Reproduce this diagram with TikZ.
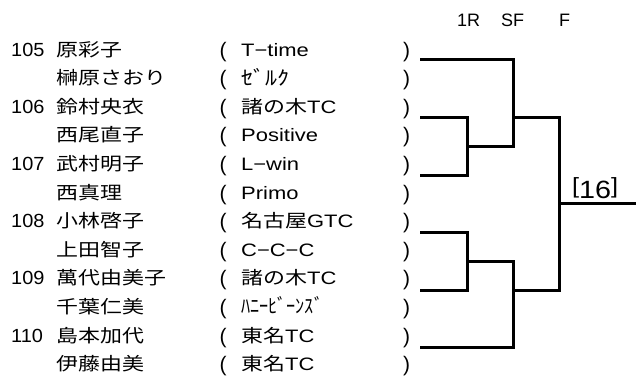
\documentclass[tikz,border=0pt]{standalone}
\usepackage{fontspec}
\setmainfont{Liberation Sans}
\newfontfamily\jpfont{Noto Sans CJK JP}
\newcommand\J[1]{\scalebox{1.22}[1]{\jpfont #1}}
\newcommand\W[1]{\scalebox{1.22}[1]{#1}}
\newcommand\K[2]{\resizebox{#1}{\height}{\jpfont\fontsize{20}{22}\selectfont #2}}
\tikzset{
  txt/.style={anchor=base west, inner sep=0pt, font=\fontsize{18}{20}\selectfont},
  num/.style={txt, font=\fontsize{19}{21}\selectfont},
  par/.style={txt, font=\fontsize{21}{23}\selectfont},
  brk/.style={line width=3pt, line join=miter},
}
\begin{document}
\begin{tikzpicture}[x=1pt,y=-1pt]
\useasboundingbox (0,0) rectangle (636,376);
% header
\node[txt] (h1) at (457,26) {1R};
\node[txt] (h2) at (501,26) {SF};
\node[txt] (h3) at (559,26) {F};
% rows
\node[num] (n1) at (11,56) {\scalebox{1.05}[1]{105}};
\node[num] (n3) at (11,113.2) {\scalebox{1.05}[1]{106}};
\node[num] (n5) at (11,170.4) {\scalebox{1.05}[1]{107}};
\node[num] (n7) at (11,227.6) {\scalebox{1.05}[1]{108}};
\node[num] (n9) at (11,284.8) {\scalebox{1.05}[1]{109}};
\node[num] (n11) at (11,342) {\scalebox{1.05}[1]{110}};
\node[txt] (m1) at (56,56) {\J{原彩子}};
\node[txt] (m2) at (56,84.6) {\J{榊原さおり}};
\node[txt] (m3) at (56,113.2) {\J{鈴村央衣}};
\node[txt] (m4) at (56,141.8) {\J{西尾直子}};
\node[txt] (m5) at (56,170.4) {\J{武村明子}};
\node[txt] (m6) at (56,199) {\J{西真理}};
\node[txt] (m7) at (56,227.6) {\J{小林啓子}};
\node[txt] (m8) at (56,256.2) {\J{上田智子}};
\node[txt] (m9) at (56,284.8) {\J{萬代由美子}};
\node[txt] (m10) at (56,313.4) {\J{千葉仁美}};
\node[txt] (m11) at (56,342) {\J{島本加代}};
\node[txt] (m12) at (56,370.6) {\J{伊藤由美}};
\foreach \y [count=\i] in {56,84.6,113.2,141.8,170.4,199,227.6,256.2,284.8,313.4,342,370.6} {
  \node[par] (lp\i) at (219.5,\y+1) {(};
  \node[par] (rp\i) at (403,\y+1) {)};
}
\node[txt] (c1) at (241,56) {\W{T−time}};
\node[txt] (c2) at (241,85) {\K{48pt}{ｾﾞﾙｸ}};
\node[txt] (c3) at (241,113.2) {\W{{\jpfont 諸の木}TC}};
\node[txt] (c4) at (241,141.8) {\W{Positive}};
\node[txt] (c5) at (241,170.4) {\W{L−win}};
\node[txt] (c6) at (241,199) {\W{Primo}};
\node[txt] (c7) at (241,227.6) {\W{{\jpfont 名古屋}GTC}};
\node[txt] (c8) at (241,256.2) {\W{C−C−C}};
\node[txt] (c9) at (241,284.8) {\W{{\jpfont 諸の木}TC}};
\node[txt] (c10) at (241,313.8) {\K{82pt}{ﾊﾆｰﾋﾞｰﾝｽﾞ}};
\node[txt] (c11) at (241,342) {\W{{\jpfont 東名}TC}};
\node[txt] (c12) at (241,370.6) {\W{{\jpfont 東名}TC}};
% bracket coordinates
\coordinate (p1) at (420,59.5);
\coordinate (p2) at (420,117);
\coordinate (p3) at (420,175);
\coordinate (p4) at (420,232);
\coordinate (p5) at (420,290);
\coordinate (p6) at (420,347);
\coordinate (q2) at (467,146);
\coordinate (q5) at (467,261);
\coordinate (t1) at (513,146);
\coordinate (t2) at (513,261);
\coordinate (s1) at (513,117);
\coordinate (s2) at (513,290);
\coordinate (f1) at (559,117);
\coordinate (f2) at (559,290);
\coordinate (fo) at (559,203);
\coordinate (fe) at (636,203);
\draw[brk] (p2) -| (q2) |- (p3);
\draw[brk] (p1) -| (t1) -- (q2);
\draw[brk] (p4) -| (q5) |- (p5);
\draw[brk] (q5) -- (t2) |- (p6);
\draw[brk] (s1) -- (f1) -- (f2) -- (s2);
\draw[brk] (fo) -- (fe);
\node[anchor=base west, inner sep=0pt] (res) at (572,198)
  {\scalebox{1.15}[1]{\fontsize{22}{24}\selectfont\raisebox{0.21em}{[}\fontsize{25}{27}\selectfont 16\fontsize{22}{24}\selectfont\raisebox{0.21em}{]}}};
\end{tikzpicture}
\end{document}
